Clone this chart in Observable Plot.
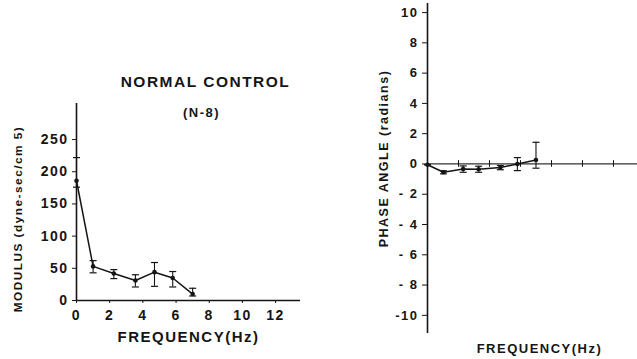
<!DOCTYPE html>
<html>
<head>
<meta charset="utf-8">
<script src="https://cdn.jsdelivr.net/npm/d3@7"></script>
<script src="https://cdn.jsdelivr.net/npm/@observablehq/plot@0.6"></script>
<style>
  html, body { margin: 0; padding: 0; background: #fff; }
  #wrap { position: relative; width: 637px; height: 359px; overflow: hidden; background: #fff; }
  #left, #right { position: absolute; top: 0; }
  #left { left: 0; }
  #right { left: 318px; }
  svg text { letter-spacing: 1.5px; }
  svg text.title { letter-spacing: 0.4px; }
</style>
</head>
<body>
<div id="wrap"><div id="left"></div><div id="right"></div></div>
<script>
// ---- data: left panel (modulus) ----
const freqL   = [0, 1.0, 2.25, 3.55, 4.7, 5.8, 7.0];
const modulus = [186, 53, 42, 31, 44, 35, 10];
const modHi   = [222, 62, 48, 40, 59, 45, 19];
const modLo   = [176, 43, 34, 21, 22, 21, 7];
const xTicksL = [0, 2, 4, 6, 8, 10, 12];
const yTicksL = [0, 50, 100, 150, 200, 250];

// ---- data: right panel (phase angle) ----
const freqR   = [0, 1.03, 2.3, 3.3, 4.7, 5.8, 7.0];
const phase   = [-0.05, -0.55, -0.33, -0.35, -0.24, 0.0, 0.26];
const phHi    = [-0.05, -0.45, -0.13, -0.15, -0.10, 0.42, 1.43];
const phLo    = [-0.05, -0.65, -0.55, -0.55, -0.38, -0.44, -0.28];
const xTicksR = [2, 4, 6, 8, 10, 12];
const yTicksR = [10, 8, 6, 4, 2, 0, -2, -4, -6, -8, -10];
const yLabelsR = ["10", "8", "6", "4", "2", "0", "- 2", "- 4", "- 6", "- 8", "-10"];

const titleMain = "NORMAL CONTROL";
const titleSub = "(N-8)";
const xLabel = "FREQUENCY(Hz)";
const yLabelL = "MODULUS (dyne-sec/cm 5)";
const yLabelR = "PHASE ANGLE (radians)";

const ink = "#151515";
const font = "'Liberation Sans', Arial, sans-serif";

const dataL = freqL.map((f, i) => ({f, v: modulus[i], hi: modHi[i], lo: modLo[i]}));
const dataR = freqR.map((f, i) => ({f, v: phase[i], hi: phHi[i], lo: phLo[i]}));

const hline = {
  draw(context, size) {
    const r = Math.sqrt(size / Math.PI);
    context.moveTo(-r, 0);
    context.lineTo(r, 0);
  }
};

const left = Plot.plot({
  width: 320,
  height: 359,
  marginLeft: 76,
  marginRight: 20,
  marginTop: 103,
  marginBottom: 59,
  style: {fontFamily: font, fontSize: "14px", fontWeight: "bold", color: ink, background: "#fff"},
  x: {domain: [0, 13.5], axis: null},
  y: {domain: [0, 306], axis: null},
  marks: [
    Plot.axisX(xTicksL, {tickSize: 3, tickPadding: 7, label: null, stroke: ink}),
    Plot.axisY(yTicksL, {tickSize: 4, tickPadding: 4, label: null, stroke: ink}),
    Plot.ruleX([0], {stroke: ink, strokeWidth: 1.6}),
    Plot.ruleY([0], {stroke: ink, strokeWidth: 1.6}),
    Plot.ruleX(dataL, {x: "f", y1: "lo", y2: "hi", stroke: ink, strokeWidth: 1.1}),
    Plot.dot(dataL, {x: "f", y: "hi", symbol: hline, r: 3.5, stroke: ink, strokeWidth: 1.2}),
    Plot.dot(dataL, {x: "f", y: "lo", symbol: hline, r: 3.5, stroke: ink, strokeWidth: 1.2}),
    Plot.line(dataL, {x: "f", y: "v", stroke: ink, strokeWidth: 1.5}),
    Plot.dot(dataL, {x: "f", y: "v", r: 2.3, fill: ink, stroke: null}),
    Plot.text([titleMain], {frameAnchor: "top", textAnchor: "middle", lineAnchor: "middle", className: "title",
      dx: 17, dy: -21, fontSize: 15.5, fill: ink}),
    Plot.text([titleSub], {frameAnchor: "top", textAnchor: "middle", lineAnchor: "middle",
      dx: 13, dy: 9, fontSize: 13, fill: ink}),
    Plot.text([xLabel], {frameAnchor: "bottom", textAnchor: "middle", lineAnchor: "middle",
      dy: 37, fontSize: 15, fill: ink}),
    Plot.text([yLabelL], {frameAnchor: "left", textAnchor: "middle", lineAnchor: "middle",
      dx: -58, dy: 17, rotate: -90, fontSize: 11.8, fill: ink})
  ]
});
document.getElementById("left").appendChild(left);

const right = Plot.plot({
  width: 319,
  height: 359,
  marginLeft: 109,
  marginRight: 0,
  marginTop: 3,
  marginBottom: 26,
  style: {fontFamily: font, fontSize: "13px", fontWeight: "bold", color: ink, background: "#fff"},
  x: {domain: [0, 13.55], axis: null},
  y: {domain: [-11.2, 10.6], axis: null},
  marks: [
    Plot.axisY(yTicksR, {tickSize: 5, tickPadding: 4, label: null, stroke: ink,
      tickFormat: d => yLabelsR[yTicksR.indexOf(d)]}),
    Plot.ruleX([0], {stroke: ink, strokeWidth: 1.6}),
    Plot.ruleY([0], {stroke: "#333", strokeWidth: 1.3}),
    Plot.ruleX(xTicksR, {y1: -0.22, y2: 0.22, stroke: ink, strokeWidth: 1}),
    Plot.ruleX(dataR, {x: "f", y1: "lo", y2: "hi", stroke: ink, strokeWidth: 1.1}),
    Plot.dot(dataR, {x: "f", y: "hi", symbol: hline, r: 3.5, stroke: ink, strokeWidth: 1.2}),
    Plot.dot(dataR, {x: "f", y: "lo", symbol: hline, r: 3.5, stroke: ink, strokeWidth: 1.2}),
    Plot.line(dataR, {x: "f", y: "v", stroke: ink, strokeWidth: 1.5}),
    Plot.dot(dataR, {x: "f", y: "v", r: 2.3, fill: ink, stroke: null}),
    Plot.text([xLabel], {frameAnchor: "bottom", textAnchor: "middle", lineAnchor: "middle",
      dx: 7, dy: 15, fontSize: 13, fill: ink}),
    Plot.text([yLabelR], {frameAnchor: "left", textAnchor: "middle", lineAnchor: "middle",
      dx: -44, dy: -10, rotate: -90, fontSize: 12.5, fill: ink})
  ]
});
document.getElementById("right").appendChild(right);
</script>
</body>
</html>
